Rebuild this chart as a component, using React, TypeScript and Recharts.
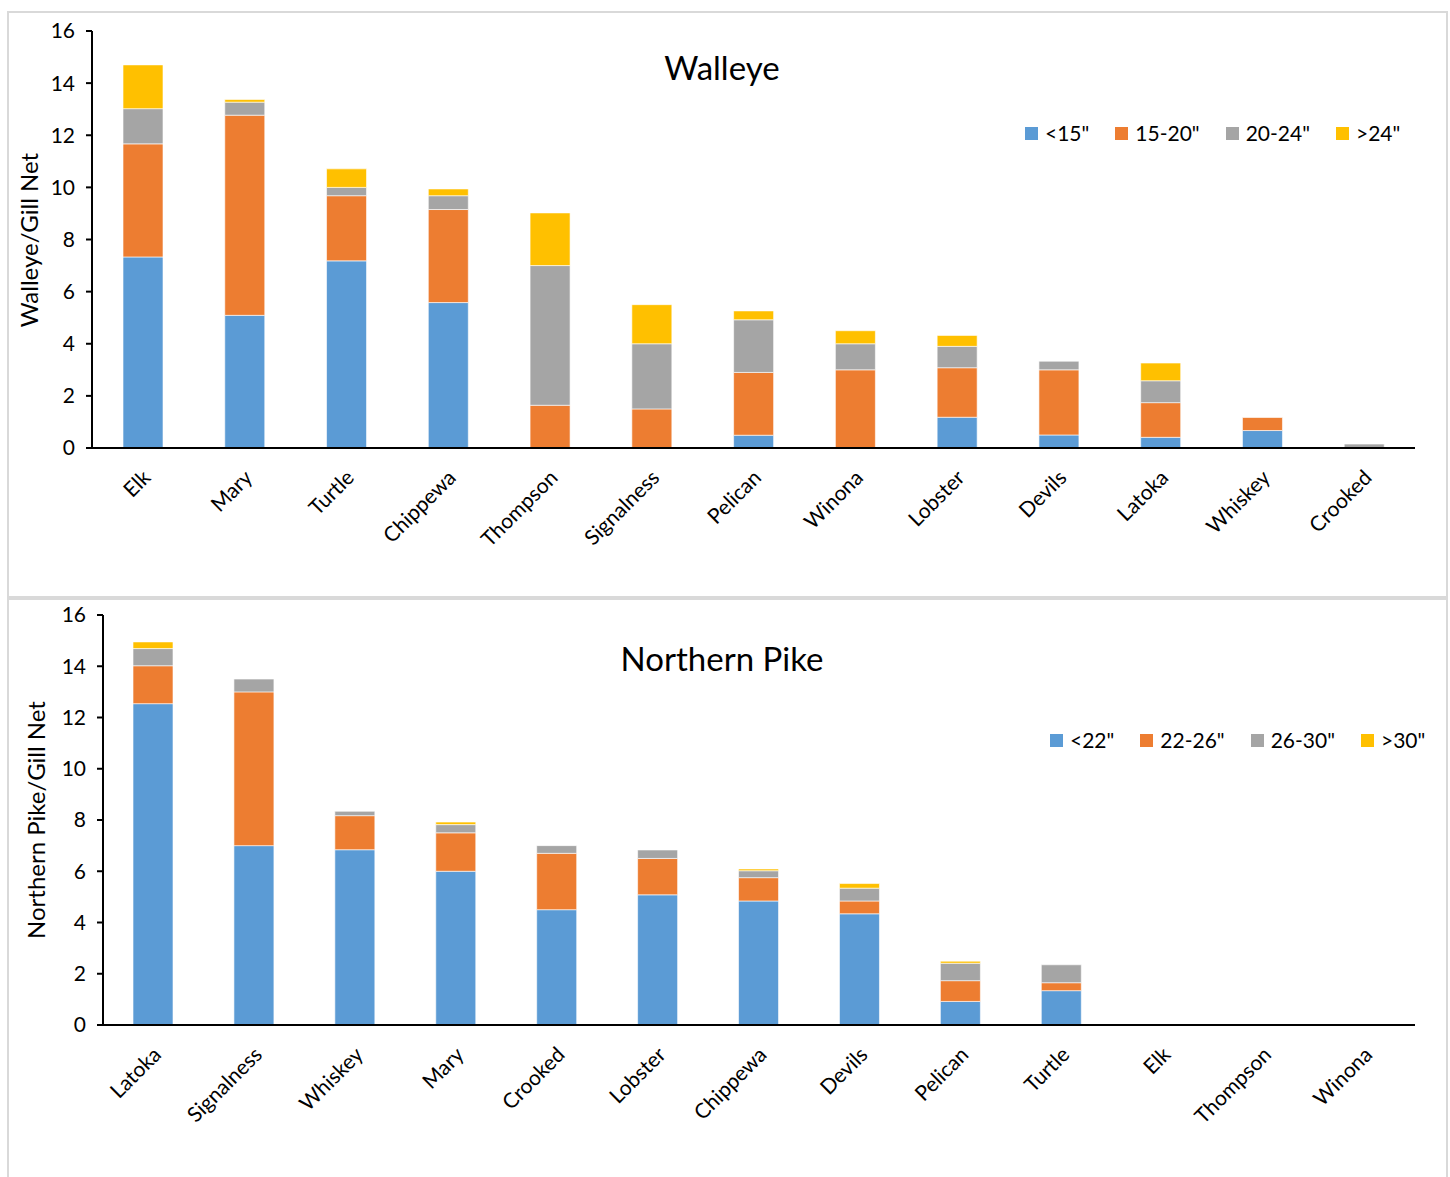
import React from 'react';
import { BarChart, Bar, XAxis, YAxis } from 'recharts';

const walleyeLakes = ['Elk', 'Mary', 'Turtle', 'Chippewa', 'Thompson', 'Signalness', 'Pelican', 'Winona', 'Lobster', 'Devils', 'Latoka', 'Whiskey', 'Crooked'];
const walleyeUnder15 = [7.33, 5.09, 7.18, 5.58, 0, 0, 0.49, 0, 1.18, 0.5, 0.41, 0.67, 0];
const walleye15to20 = [4.34, 7.68, 2.5, 3.57, 1.64, 1.5, 2.41, 3.0, 1.9, 2.5, 1.33, 0.5, 0];
const walleye20to24 = [1.35, 0.5, 0.32, 0.53, 5.36, 2.5, 2.02, 1.0, 0.82, 0.33, 0.84, 0, 0.15];
const walleyeOver24 = [1.68, 0.1, 0.71, 0.26, 2.02, 1.5, 0.34, 0.5, 0.42, 0, 0.68, 0, 0];

const pikeLakes = ['Latoka', 'Signalness', 'Whiskey', 'Mary', 'Crooked', 'Lobster', 'Chippewa', 'Devils', 'Pelican', 'Turtle', 'Elk', 'Thompson', 'Winona'];
const pikeUnder22 = [12.54, 7.0, 6.84, 6.0, 4.5, 5.08, 4.84, 4.34, 0.92, 1.34, 0, 0, 0];
const pike22to26 = [1.48, 6.0, 1.33, 1.5, 2.2, 1.42, 0.91, 0.5, 0.81, 0.31, 0, 0, 0];
const pike26to30 = [0.67, 0.5, 0.17, 0.32, 0.3, 0.33, 0.27, 0.5, 0.68, 0.7, 0, 0, 0];
const pikeOver30 = [0.26, 0, 0, 0.1, 0, 0, 0.07, 0.18, 0.08, 0, 0, 0, 0];

const yTicks = [0, 2, 4, 6, 8, 10, 12, 14, 16];

const BLUE = '#5B9BD5';
const ORANGE = '#ED7D31';
const GRAY = '#A5A5A5';
const YELLOW = '#FFC000';
const FONT = 'Lato, "Open Sans", sans-serif';

type Series = { key: string; name: string; color: string; values: number[] };

const walleyeSeries: Series[] = [
  { key: 's1', name: '<15"', color: BLUE, values: walleyeUnder15 },
  { key: 's2', name: '15-20"', color: ORANGE, values: walleye15to20 },
  { key: 's3', name: '20-24"', color: GRAY, values: walleye20to24 },
  { key: 's4', name: '>24"', color: YELLOW, values: walleyeOver24 },
];
const pikeSeries: Series[] = [
  { key: 's1', name: '<22"', color: BLUE, values: pikeUnder22 },
  { key: 's2', name: '22-26"', color: ORANGE, values: pike22to26 },
  { key: 's3', name: '26-30"', color: GRAY, values: pike26to30 },
  { key: 's4', name: '>30"', color: YELLOW, values: pikeOver30 },
];

const buildRows = (lakes: string[], series: Series[]) =>
  lakes.map((lake, i) => {
    const row: any = { lake };
    series.forEach((s) => (row[s.key] = s.values[i]));
    return row;
  });

const CatTick = (props: any) => {
  const { x, y, payload } = props;
  return (
    <g transform={`translate(${x + 9},${y + 31})`}>
      <text textAnchor="end" transform="rotate(-45)" fontSize={21} fill="#000" fontFamily={FONT}>
        {payload.value}
      </text>
    </g>
  );
};

type PanelProps = {
  top: number;
  height: number;
  lakes: string[];
  series: Series[];
  title: string;
  titleY: number;
  yLabel: string;
  yLabelX: number;
  yLabelY: number;
  margin: { top: number; right: number; bottom: number; left: number };
  legendLeft: number;
  legendTop: number;
};

const Panel = (p: PanelProps) => {
  const rows = buildRows(p.lakes, p.series);
  return (
    <div style={{ position: 'absolute', left: 0, top: p.top, width: 1450, height: p.height }}>
      <BarChart width={1450} height={p.height} data={rows} margin={p.margin} barSize={40}>
        <XAxis
          dataKey="lake"
          interval={0}
          tickLine={false}
          tickSize={0}
          tickMargin={0}
          height={100}
          axisLine={{ stroke: '#000', strokeWidth: 2 }}
          tick={<CatTick />}
        />
        <YAxis
          domain={[0, 16]}
          ticks={yTicks}
          width={60}
          tickSize={6}
          tickMargin={11}
          axisLine={{ stroke: '#000', strokeWidth: 2 }}
          tickLine={{ stroke: '#000', strokeWidth: 2 }}
          tick={{ fontSize: 21, fill: '#000', fontFamily: FONT }}
          allowDecimals={false}
        />
        {p.series.map((s) => (
          <Bar
            key={s.key}
            dataKey={s.key}
            name={s.name}
            stackId="a"
            fill={s.color}
            stroke="#ffffff"
            strokeOpacity={0.6}
            strokeWidth={1}
            isAnimationActive={false}
          />
        ))}
      </BarChart>
      <div
        style={{
          position: 'absolute',
          left: p.legendLeft,
          top: p.legendTop,
          display: 'flex',
          alignItems: 'center',
          fontFamily: FONT,
          fontSize: 21,
          color: '#000',
          whiteSpace: 'nowrap',
          lineHeight: '26px',
        }}
      >
        {p.series.map((s) => (
          <div key={s.key} style={{ display: 'flex', alignItems: 'center', marginRight: 26 }}>
            <span style={{ width: 13, height: 13, background: s.color, display: 'inline-block', marginRight: 7 }} />
            <span>{s.name}</span>
          </div>
        ))}
      </div>
      <div
        style={{
          position: 'absolute',
          left: 722,
          top: p.titleY,
          transform: 'translate(-50%,-50%)',
          fontFamily: FONT,
          fontSize: 33,
          color: '#000',
          whiteSpace: 'nowrap',
        }}
      >
        {p.title}
      </div>
      <div
        style={{
          position: 'absolute',
          left: p.yLabelX,
          top: p.yLabelY,
          transform: 'translate(-50%,-50%) rotate(-90deg)',
          fontFamily: FONT,
          fontSize: 24,
          color: '#000',
          whiteSpace: 'nowrap',
        }}
      >
        {p.yLabel}
      </div>
    </div>
  );
};

export default function App() {
  return (
    <div style={{ position: 'absolute', left: 0, top: 0, width: 1450, height: 1177, background: '#fff', overflow: 'hidden' }}>
      <div style={{ position: 'absolute', left: 7, top: 11, width: 1441, height: 587, border: '2px solid #d9d9d9', boxSizing: 'border-box' }} />
      <div style={{ position: 'absolute', left: 7, top: 598, width: 1441, height: 600, border: '2px solid #d9d9d9', boxSizing: 'border-box' }} />
      <Panel
        top={0}
        height={597}
        lakes={walleyeLakes}
        series={walleyeSeries}
        title="Walleye"
        titleY={67}
        yLabel="Walleye/Gill Net"
        yLabelX={28}
        yLabelY={240}
        margin={{ top: 31, right: 35, bottom: 49, left: 32 }}
        legendLeft={1025}
        legendTop={120}
      />
      <Panel
        top={599}
        height={578}
        lakes={pikeLakes}
        series={pikeSeries}
        title="Northern Pike"
        titleY={59}
        yLabel="Northern Pike/Gill Net"
        yLabelX={35}
        yLabelY={221}
        margin={{ top: 16, right: 35, bottom: 52, left: 43 }}
        legendLeft={1050}
        legendTop={128}
      />
    </div>
  );
}
